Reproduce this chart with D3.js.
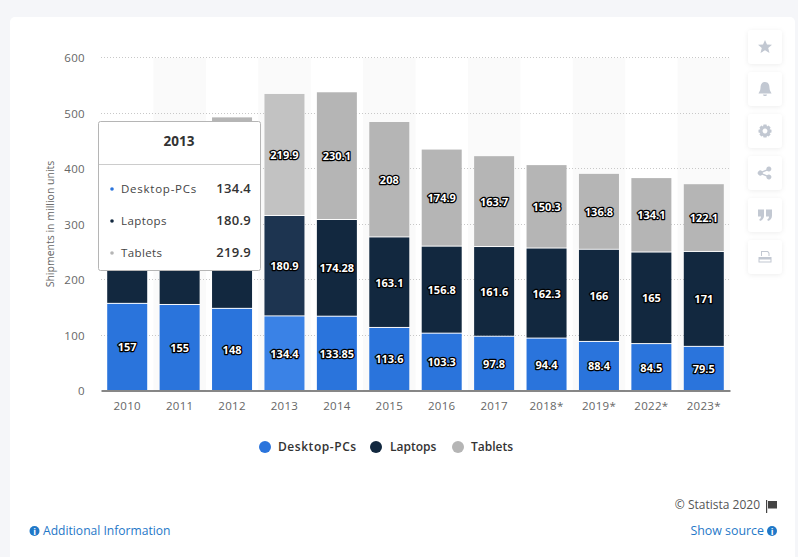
<!DOCTYPE html>
<html><head><meta charset="utf-8">
<script src="https://cdnjs.cloudflare.com/ajax/libs/d3/7.8.5/d3.min.js"></script>
<style>
html,body{margin:0;padding:0;background:#f5f6f9;overflow:hidden}
svg{display:block}
text{font-family:"Open Sans",sans-serif}
</style></head><body>
<svg id="c" width="798" height="557"></svg>
<script>
const categories=["2010","2011","2012","2013","2014","2015","2016","2017","2018*","2019*","2022*","2023*"];
const seriesNames=["Desktop-PCs","Laptops","Tablets"];
const desktops=[157,155,148,134.4,133.85,113.6,103.3,97.8,94.4,88.4,84.5,79.5];
const laptops=[201,209,202,180.9,174.28,163.1,156.8,161.6,162.3,166,165,171];
const tablets=[19,72,143,219.9,230.1,208,174.9,163.7,150.3,136.8,134.1,122.1];
const yTicks=[0,100,200,300,400,500,600];
const colors=["#2a74dc","#12283f","#b5b5b5"];
const hoverColors=["#3a82e6","#1d3450","#c2c2c2"];
const hovered="2013";
const coveredByTooltip=["2010","2011","2012"];
const tooltipRows=[["Desktop-PCs","134.4","#2a74dc"],["Laptops","180.9","#12283f"],["Tablets","219.9","#b5b5b5"]];
const values=[desktops,laptops,tablets];

const svg=d3.select("#c");
svg.append("defs").append("filter").attr("id","soft").attr("x","-30%").attr("y","-30%").attr("width","160%").attr("height","160%")
  .append("feDropShadow").attr("dx",0).attr("dy",1).attr("stdDeviation",2.5).attr("flood-color","#000").attr("flood-opacity",0.07);

// card
svg.append("rect").attr("x",10).attr("y",17).attr("width",785).attr("height",560).attr("rx",5).attr("fill","#fff");

const x=d3.scaleBand().domain(categories).range([101,730]).paddingInner(0).paddingOuter(0);
const y=d3.scaleLinear().domain([0,600]).range([391,58]);
const barW=40;

// alternating bands
svg.append("g").selectAll("rect").data(categories.filter((d,i)=>i%2==1)).join("rect")
  .attr("x",d=>x(d)).attr("y",y(600)).attr("width",x.bandwidth()).attr("height",y(0)-y(600)).attr("fill","#fafafa");

// grid
svg.append("g").selectAll("line").data(yTicks.filter(d=>d>0)).join("line")
  .attr("x1",101).attr("x2",730).attr("y1",d=>Math.round(y(d))-.5).attr("y2",d=>Math.round(y(d))-.5)
  .attr("stroke","#c8c8c8").attr("stroke-dasharray","1 2");

// bars
const stack=d3.stack().keys([0,1,2]).value((d,k)=>values[k][d]);
const layers=stack(d3.range(categories.length));
const gBars=svg.append("g");
layers.forEach((ls,k)=>{
  gBars.append("g").selectAll("rect").data(ls).join("rect")
    .attr("x",d=>x(categories[d.data])+x.bandwidth()/2-barW/2)
    .attr("width",barW)
    .attr("y",d=>y(d[1]))
    .attr("height",d=>Math.max(0,y(d[0])-y(d[1])-1))
    .attr("fill",d=>categories[d.data]==hovered?hoverColors[k]:colors[k]);
});

// data labels (those under the tooltip are not visible in the picture)
const gLab=svg.append("g");
layers.forEach((ls,k)=>{
  gLab.append("g").selectAll("text")
    .data(ls.filter(d=>k==0||!coveredByTooltip.includes(categories[d.data]))).join("text")
    .attr("x",d=>x(categories[d.data])+x.bandwidth()/2)
    .attr("y",d=>(y(d[0])+y(d[1]))/2+4)
    .attr("text-anchor","middle")
    .attr("font-size",11).attr("font-weight",700)
    .attr("fill","#fff").attr("stroke","#000").attr("stroke-width",2.6).attr("stroke-linejoin","round")
    .style("paint-order","stroke")
    .text(d=>values[k][d.data]);
});

// axes
const ax=svg.append("g").attr("transform","translate(0,390.5)").call(d3.axisBottom(x).tickSize(0).tickPadding(11));
ax.select(".domain").attr("stroke","#111").attr("stroke-width",1.2);
ax.selectAll("text").attr("font-size",11.5).attr("fill","#666").style("font-family",'"Open Sans",sans-serif').style("letter-spacing","0.3px");
const ay=svg.append("g").attr("transform","translate(90,0)").call(d3.axisLeft(y).tickValues(yTicks).tickSize(0).tickPadding(5));
ay.select(".domain").remove();
ay.selectAll("text").attr("font-size",11.5).attr("fill","#666").style("font-family",'"Open Sans",sans-serif').style("letter-spacing","0.3px");
svg.append("text").attr("transform","translate(54,224) rotate(-90)").attr("text-anchor","middle")
  .attr("font-size",10.5).attr("fill","#666").text("Shipments in million units");

// legend
const legendX=[[265,278],[376,390],[458,471]];
const lg=svg.append("g").selectAll("g").data(seriesNames).join("g");
lg.append("circle").attr("cx",(d,i)=>legendX[i][0]).attr("cy",447).attr("r",6).attr("fill",(d,i)=>colors[i]);
lg.append("text").attr("x",(d,i)=>legendX[i][1]).attr("y",451).attr("font-size",12).attr("font-weight",600).attr("fill","#333")
  .style("letter-spacing",(d,i)=>i==0?"0.55px":"0").text(d=>d);

// tooltip
const tt=svg.append("g");
tt.append("rect").attr("x",98.5).attr("y",121.5).attr("width",162).attr("height",149).attr("rx",2).attr("fill","#fff").attr("stroke","#b5b5b5");
tt.append("line").attr("x1",99).attr("x2",260).attr("y1",164.5).attr("y2",164.5).attr("stroke","#ccc");
tt.append("text").attr("x",179).attr("y",146).attr("text-anchor","middle").attr("font-size",13.5).attr("font-weight",700).attr("fill","#333").text(hovered);
const rowY=[189,221,253];
const tr=tt.selectAll("g").data(tooltipRows).join("g");
tr.append("circle").attr("cx",112).attr("cy",(d,i)=>rowY[i]).attr("r",1.8).attr("fill",d=>d[2]);
tr.append("text").attr("x",121).attr("y",(d,i)=>rowY[i]+4).attr("font-size",11.5).attr("fill","#444")
  .style("letter-spacing",(d,i)=>i==0?"0.75px":"0.4px").text(d=>d[0]);
tr.append("text").attr("x",251).attr("y",(d,i)=>rowY[i]+4).attr("text-anchor","end").attr("font-size",13).attr("font-weight",600).attr("fill","#333").style("letter-spacing","0.3px").text(d=>d[1]);

// side buttons
const btnY=[30,72,114,156,198,240];
const icons=[
 "M0,-7L2,-2.4L7,-2.2L3.2,1L4.5,6L0,3.3L-4.5,6L-3.2,1L-7,-2.2L-2,-2.4Z",
 "M0,-7C3.5,-7 4.5,-4 4.5,-1C4.5,2 6.5,3.5 6.5,4.5L-6.5,4.5C-6.5,3.5 -4.5,2 -4.5,-1C-4.5,-4 -3.5,-7 0,-7ZM-2,5.5L2,5.5C2,7.5 -2,7.5 -2,5.5Z",
 "M-1.5,-6.5L1.5,-6.5L2,-4.6L3.6,-5.4L5.6,-3.4L4.7,-1.8L6.5,-1.3L6.5,1.5L4.7,2L5.6,3.6L3.6,5.6L2,4.7L1.5,6.5L-1.5,6.5L-2,4.7L-3.6,5.6L-5.6,3.6L-4.7,2L-6.5,1.5L-6.5,-1.3L-4.7,-1.8L-5.6,-3.4L-3.6,-5.4L-2,-4.6ZM0,-2.4A2.4,2.4 0 1 0 0.01,-2.4Z",
 "M4,-6.5A2.5,2.5 0 1 1 2,-2.3L-2.2,-0.5L-2.2,0.5L2,2.3A2.5,2.5 0 1 1 1.4,3.6L-2.9,1.7A2.5,2.5 0 1 1 -2.9,-1.7L1.4,-3.6A2.5,2.5 0 0 1 4,-6.5Z",
 "M-7,-5.5L-1,-5.5L-1,0.5C-1,3.5 -2.5,5 -5,6L-5.8,4.5C-4.5,3.8 -4,3 -4,1.5L-7,1.5ZM1,-5.5L7,-5.5L7,0.5C7,3.5 5.5,5 3,6L2.2,4.5C3.5,3.8 4,3 4,1.5L1,1.5Z",
 "M-4,-6L3,-6L4.5,-4L4.5,-1L-4,-1ZM-3,-5L-3,-1L3.5,-1L3.5,-3.6L2.5,-5ZM-6.5,0L6.5,0L6.5,5.5L-6.5,5.5ZM-5.5,2.5L5.5,2.5L5.5,4.5L-5.5,4.5Z"
];
const bt=svg.append("g").selectAll("g").data(btnY).join("g").attr("transform",d=>`translate(765,${d+17})`);
bt.append("rect").attr("x",-17).attr("y",-17).attr("width",34).attr("height",34).attr("rx",4).attr("fill","#fff").attr("filter","url(#soft)");
bt.append("path").attr("d",(d,i)=>icons[i]).attr("fill","#c2c8d2").attr("fill-rule","evenodd");

// footer
const blue="#1f78c8";
svg.append("text").attr("x",760).attr("y",509).attr("text-anchor","end").attr("font-size",12).attr("fill","#555").text("© Statista 2020");
svg.append("path").attr("d","M766,500h1.2v13h-1.2zM768,501h9v7.5h-9z").attr("fill","#444");
svg.append("text").attr("x",43).attr("y",535).attr("font-size",12.1).attr("fill",blue).text("Additional Information");
svg.append("text").attr("x",764).attr("y",535).attr("text-anchor","end").attr("font-size",12.4).attr("fill",blue).text("Show source");
[[34.5],[772]].forEach(([cx])=>{
  svg.append("circle").attr("cx",cx).attr("cy",531).attr("r",5).attr("fill",blue);
  svg.append("text").attr("x",cx).attr("y",534.5).attr("text-anchor","middle").attr("font-size",9).attr("font-weight",700).attr("fill","#fff").text("i");
});
</script>
</body></html>
